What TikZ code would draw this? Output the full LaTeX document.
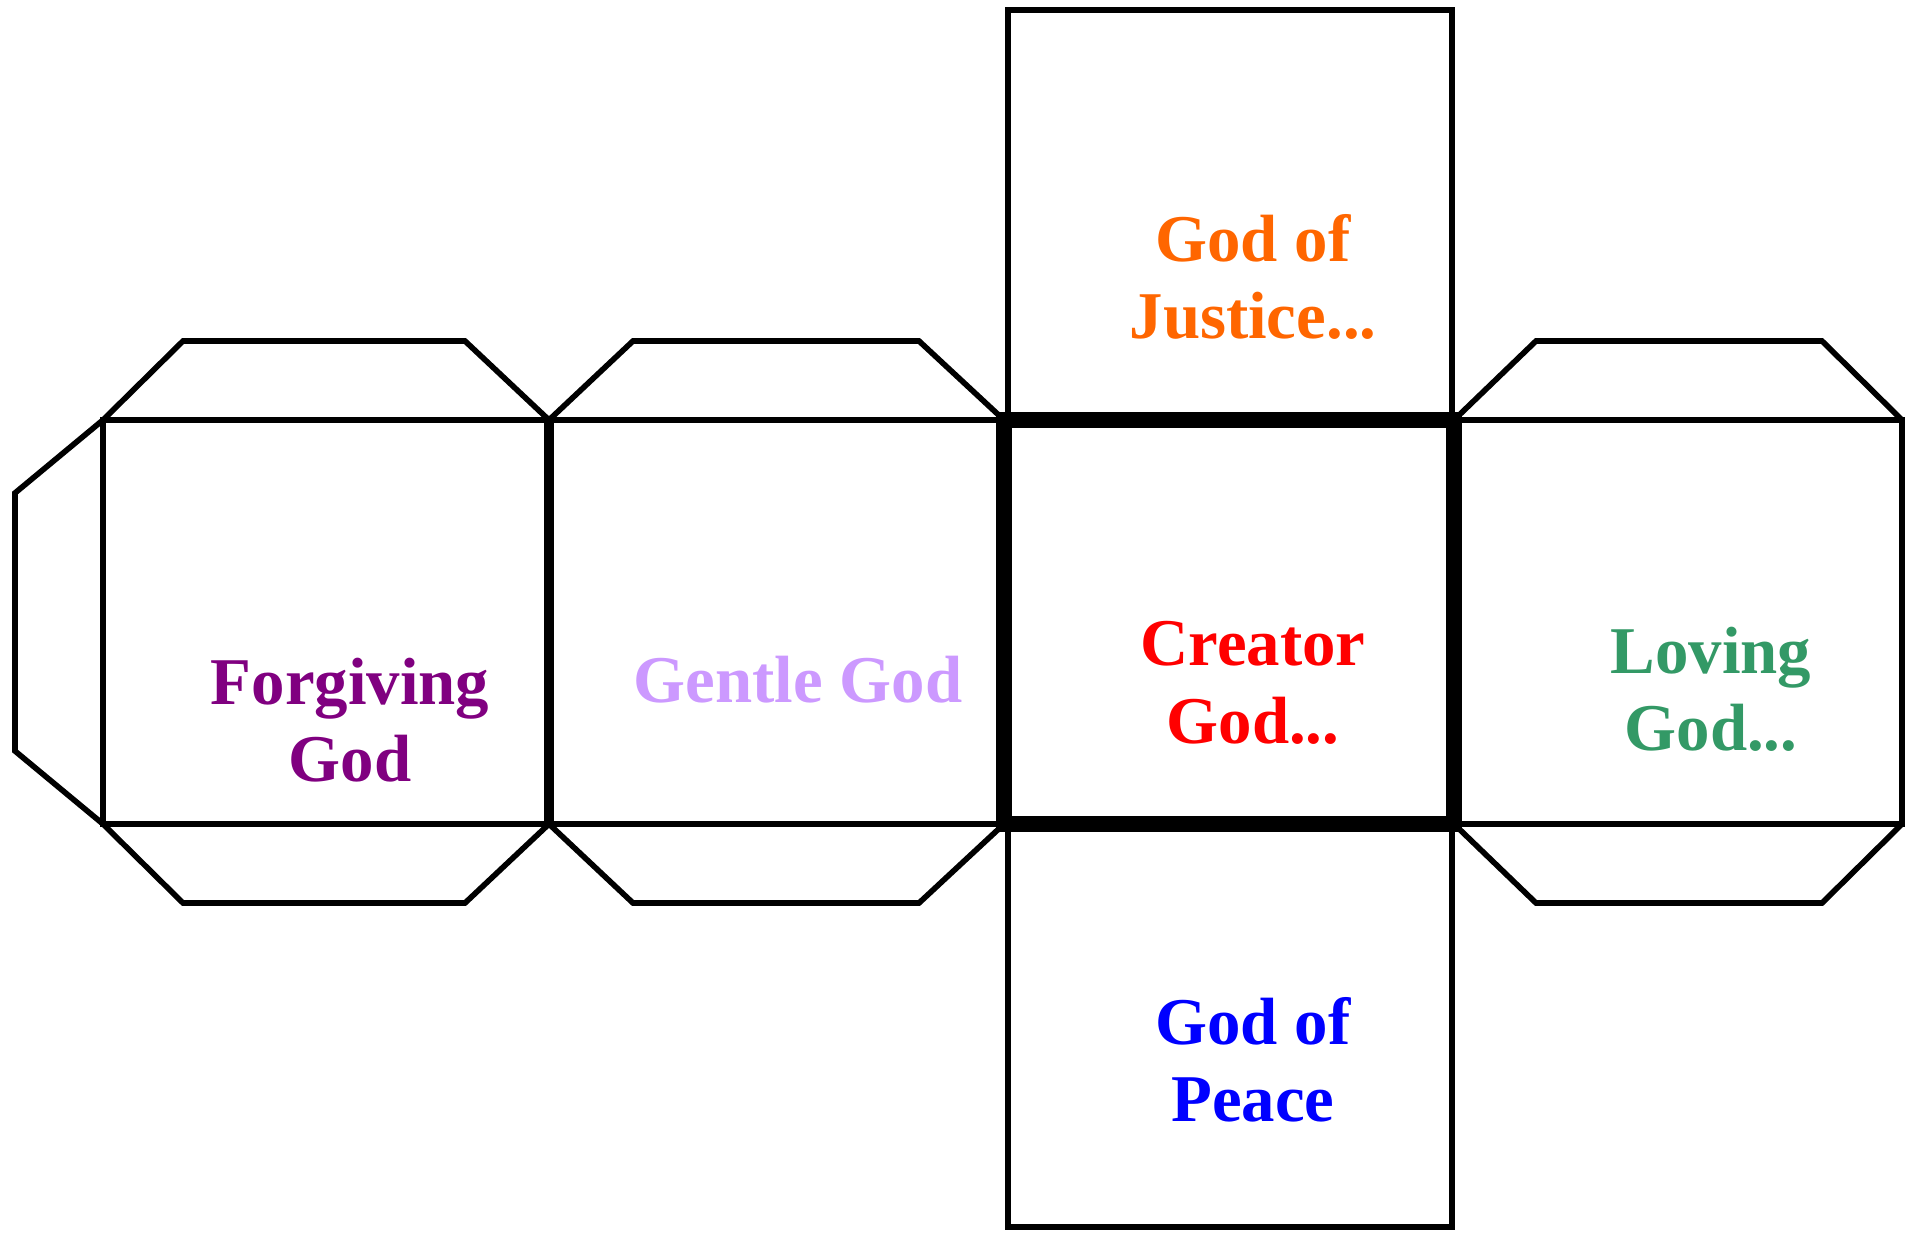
\documentclass[tikz,border=0pt]{standalone}
\usepackage{fontspec}
\setmainfont{Liberation Serif}
\usepackage{xcolor}
\usepackage{tikz}
\definecolor{forgivepurple}{HTML}{800080}
\definecolor{gentlelilac}{HTML}{CC99FF}
\definecolor{creatorred}{HTML}{FF0000}
\definecolor{justiceorange}{HTML}{FF6600}
\definecolor{lovinggreen}{HTML}{339966}
\definecolor{peaceblue}{HTML}{0000FF}
\tikzset{
  flap/.style={draw=black, line width=1.6pt, line join=miter},
  face/.style={draw=black, line width=1.8pt},
  fold/.style={draw=black, line width=3pt},
  mainface/.style={draw=black, line width=4.4pt},
  word/.style={
    align=center,
    font=\fontsize{19}{22}\selectfont\bfseries,
    inner sep=0pt
  }
}

\begin{document}
\begin{tikzpicture}[x=0.01cm,y=-0.01cm]
  \path[use as bounding box] (0,0) rectangle (1908,1233);

  % glue flaps
  \draw[flap] (103,420) -- (15,493) -- (15,751) -- (103,824);
  \draw[flap] (103,420) -- (183,341) -- (465,341) -- (549,420);
  \draw[flap] (103,824) -- (183,903) -- (465,903) -- (549,824);
  \draw[flap] (549,420) -- (633,341) -- (919,341) -- (1004,420);
  \draw[flap] (549,824) -- (633,903) -- (919,903) -- (1004,824);
  \draw[flap] (1454,420) -- (1536,341) -- (1822,341) -- (1902,420);
  \draw[flap] (1454,824) -- (1536,903) -- (1822,903) -- (1902,824);

  % faces
  \draw[face] (103,420) rectangle (549,824);
  \draw[face] (549,420) rectangle (1004,824);
  \draw[face] (1454,420) rectangle (1902,824);
  \draw[face] (1008,10) rectangle (1452,420);
  \draw[face] (1008,824) rectangle (1452,1227);
  \draw[fold] (549,420) -- (549,824);
  \draw[mainface] (1004,420) rectangle (1454,824);

  \node[word, text=forgivepurple] (forgiving) at (350,720) {Forgiving\\God};
  \node[word, text=gentlelilac] (gentle) at (798,680) {Gentle God};
  \node[word, text=creatorred] (creator) at (1253,683) {Creator\\God...};
  \node[word, text=justiceorange] (justice) at (1253,277) {God of\\Justice...};
  \node[word, text=lovinggreen] (loving) at (1711,689) {Loving\\God...};
  \node[word, text=peaceblue] (peace) at (1253,1060) {God of\\Peace};
\end{tikzpicture}
\end{document}
